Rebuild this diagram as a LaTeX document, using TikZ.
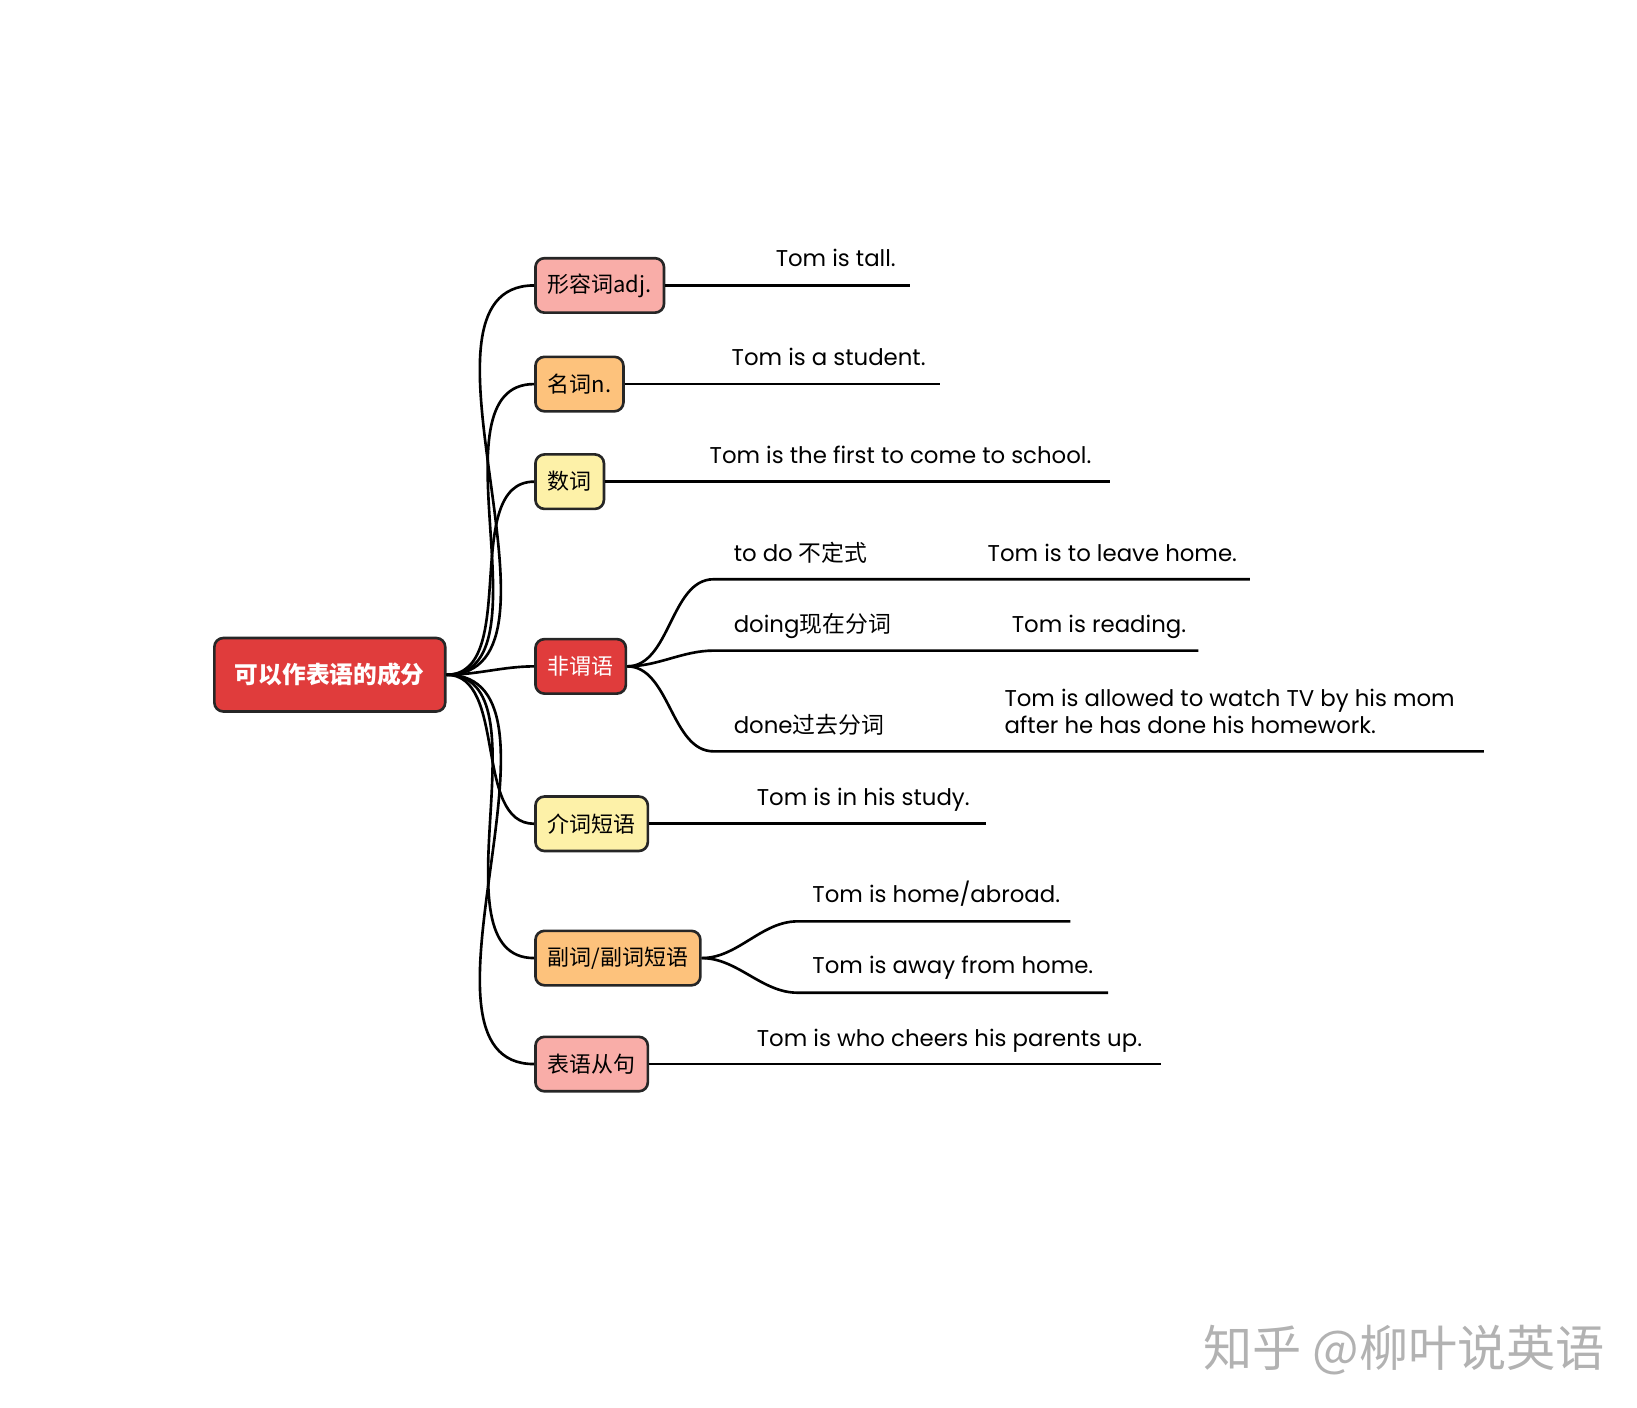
\documentclass[tikz,border=0pt]{standalone}
\usepackage{fontspec}
\setmainfont{Poppins}
\newfontfamily\cjk{Noto Sans CJK SC}
\definecolor{rootred}{HTML}{E03C3C}
\definecolor{boxpink}{HTML}{F9ADA8}
\definecolor{boxorange}{HTML}{FDC27C}
\definecolor{boxyellow}{HTML}{FDF1A8}
\tikzset{every path/.style={line width=1.5pt}}
\tikzset{
  box/.style={draw=black!85, rounded corners=0.18cm, minimum height=1.09cm, inner xsep=7pt,
    anchor=west, font=\fontsize{12.5}{14}\selectfont\cjk},
  ex/.style={anchor=base west, inner sep=0pt, font=\fontsize{13}{17}\selectfont},
  branch/.style={out=0, in=180, looseness=0.9},
}
\begin{document}
\begin{tikzpicture}[x=0.021cm, y=-0.021cm]
\useasboundingbox (0,0) rectangle (1560,1341);

% root
\node[box, fill=rootred, text=white, minimum width=4.62cm, minimum height=1.47cm,
  font=\fontsize{13.5}{16}\selectfont\cjk\bfseries] (root) at (203,643) {可以作表语的成分};

% first level
\node[box, fill=boxpink] (adj) at (509,272) {形容词{\fontfamily{}\selectfont}adj.};
\node[box, fill=boxorange] (noun) at (509,366) {名词n.};
\node[box, fill=boxyellow] (num) at (509,459) {数词};
\node[box, fill=rootred, text=white] (nonf) at (509,635) {非谓语};
\node[box, fill=boxyellow] (prep) at (509,785) {介词短语};
\node[box, fill=boxorange] (adv) at (509,913) {副词/副词短语};
\node[box, fill=boxpink] (cls) at (509,1014) {表语从句};

\foreach \n in {adj,noun,num,nonf,prep,adv,cls}
  \draw (root.east) to[branch] (\n.west);

% line ends
\coordinate (adjE) at (867,271);
\coordinate (nounE) at (896,365);
\coordinate (numE) at (1058,459);
\coordinate (prepE) at (940,785);
\coordinate (clsE) at (1106,1014);
\draw (adj.east) -- (adj.east -| adjE);
\draw (noun.east) -- (noun.east -| nounE);
\draw (num.east) -- (num.east -| numE);
\draw (prep.east) -- (prep.east -| prepE);
\draw (cls.east) -- (cls.east -| clsE);

\node[ex] (tAdj) at (738,254) {Tom is tall.};
\node[ex] (tNoun) at (696,348) {Tom is a student.};
\node[ex] (tNum) at (675,442) {Tom is the first to come to school.};
\node[ex] (tPrep) at (720,768) {Tom is in his study.};
\node[ex] (tCls) at (720,997) {Tom is who cheers his parents up.};

% non-finite forms
\coordinate (todoS) at (680,552); \coordinate (todoE) at (1191,552);
\coordinate (doingS) at (680,620); \coordinate (doingE) at (1142,620);
\coordinate (doneS) at (680,716); \coordinate (doneE) at (1414,716);
\foreach \s/\e in {todoS/todoE,doingS/doingE,doneS/doneE}
  \draw (nonf.east) to[branch] (\s) -- (\e);
\node[ex] (lTodo) at (698,535) {to do {\cjk 不定式}};
\node[ex] (lDoing) at (698,603) {doing{\cjk 现在分词}};
\node[ex] (lDone) at (698,699) {done{\cjk 过去分词}};
\node[ex] (tTodo) at (940,535) {Tom is to leave home.};
\node[ex] (tDoing) at (963,603) {Tom is reading.};
\node[ex, align=left, font=\fontsize{13}{15.5}\selectfont] (tDone) at (956,699)
  {Tom is allowed to watch TV by his mom\\after he has done his homework.};

% adverbs
\coordinate (homeS) at (760,878); \coordinate (homeE) at (1020,878);
\coordinate (awayS) at (760,946); \coordinate (awayE) at (1056,946);
\foreach \s/\e in {homeS/homeE,awayS/awayE}
  \draw (adv.east) to[branch] (\s) -- (\e);
\node[ex] (tHome) at (773,860) {Tom is home/abroad.};
\node[ex] (tAway) at (773,928) {Tom is away from home.};

% watermark
\node[font=\fontsize{28}{30}\selectfont\cjk, text=black!30] (mark) at (1338,1287) {知乎 @柳叶说英语};
\end{tikzpicture}
\end{document}
